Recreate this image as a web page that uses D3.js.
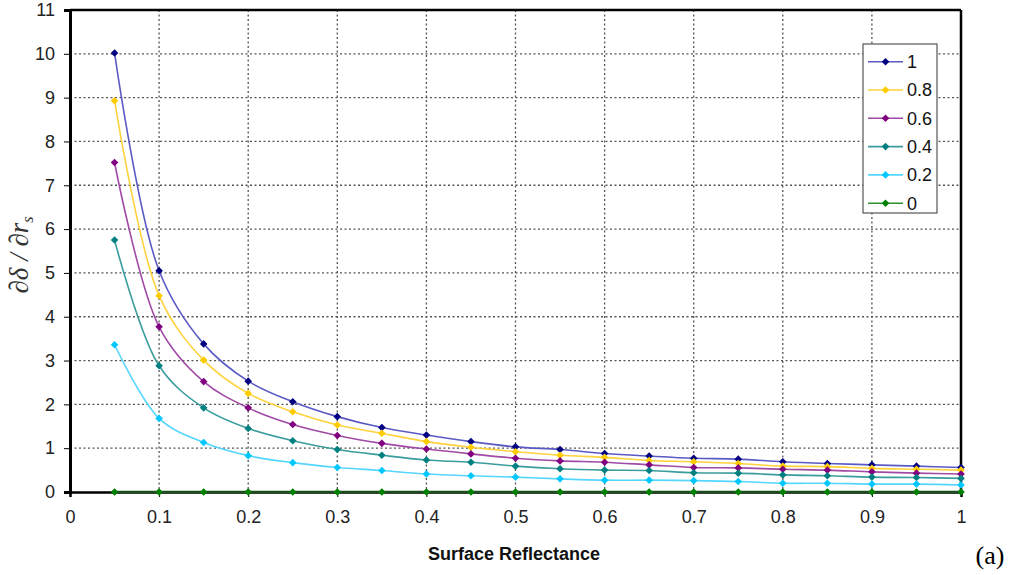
<!DOCTYPE html>
<html>
<head>
<meta charset="utf-8">
<script src="https://cdn.jsdelivr.net/npm/d3@7"></script>
<style>
  html, body { margin: 0; padding: 0; background: #fff; }
  svg { display: block; }
</style>
</head>
<body>
<svg id="chart" width="1013" height="575" font-family="Liberation Sans, Arial, sans-serif"></svg>
<script>
// ---- Data ----
const xValues = [0.05, 0.1, 0.15, 0.2, 0.25, 0.3, 0.35, 0.4, 0.45, 0.5, 0.55, 0.6, 0.65, 0.7, 0.75, 0.8, 0.85, 0.9, 0.95, 1.0];
const seriesNames = ["1", "0.8", "0.6", "0.4", "0.2", "0"];
const series1   = [10.02, 5.05, 3.38, 2.53, 2.06, 1.72, 1.47, 1.30, 1.15, 1.03, 0.97, 0.88, 0.82, 0.77, 0.75, 0.69, 0.65, 0.62, 0.59, 0.56];
const series08  = [8.93, 4.48, 3.01, 2.25, 1.83, 1.53, 1.34, 1.15, 1.02, 0.92, 0.84, 0.79, 0.72, 0.69, 0.65, 0.59, 0.58, 0.54, 0.52, 0.50];
const series06  = [7.52, 3.77, 2.52, 1.92, 1.54, 1.29, 1.11, 0.98, 0.87, 0.77, 0.71, 0.68, 0.62, 0.56, 0.55, 0.52, 0.50, 0.46, 0.43, 0.41];
const series04  = [5.75, 2.88, 1.92, 1.45, 1.17, 0.97, 0.84, 0.73, 0.68, 0.59, 0.53, 0.50, 0.49, 0.44, 0.43, 0.39, 0.37, 0.34, 0.33, 0.31];
const series02  = [3.36, 1.68, 1.13, 0.83, 0.67, 0.56, 0.49, 0.41, 0.37, 0.34, 0.30, 0.27, 0.27, 0.26, 0.24, 0.20, 0.20, 0.18, 0.18, 0.16];
const series0   = [0, 0, 0, 0, 0, 0, 0, 0, 0, 0, 0, 0, 0, 0, 0, 0, 0, 0, 0, 0];
const xTicks = [0, 0.1, 0.2, 0.3, 0.4, 0.5, 0.6, 0.7, 0.8, 0.9, 1];
const yTicks = [0, 1, 2, 3, 4, 5, 6, 7, 8, 9, 10, 11];
const xLabel = "Surface Reflectance";
const panelLabel = "(a)";

const allSeries = [series1, series08, series06, series04, series02, series0];
const lineColors   = ["#5a5ac4", "#ffd23c", "#a04aa6", "#3a9c9c", "#55d6ff", "#2e8f2e"];
const markerColors = ["#000080", "#ffcc00", "#800080", "#008080", "#00c8ff", "#008000"];

// ---- Layout ----
const svg = d3.select("#chart");
const pLeft = 70, pRight = 961, pTop = 10, pBottom = 492;

const x = d3.scaleLinear().domain([0, 1]).range([pLeft, pRight]);
const y = d3.scaleLinear().domain([0, 11]).range([pBottom, pTop]);

// Grid
const grid = svg.append("g");
grid.selectAll("line.vg").data(xTicks.filter(t => t > 0 && t < 1)).enter().append("line")
  .attr("x1", d => x(d)).attr("x2", d => x(d)).attr("y1", pTop).attr("y2", pBottom)
  .attr("stroke", "#555").attr("stroke-width", 1.3).attr("stroke-dasharray", "2,2.5");
grid.selectAll("line.hg").data(yTicks.filter(t => t > 0 && t < 11)).enter().append("line")
  .attr("x1", pLeft).attr("x2", pRight).attr("y1", d => y(d)).attr("y2", d => y(d))
  .attr("stroke", "#555").attr("stroke-width", 1.3).attr("stroke-dasharray", "2,2.5");

// Frame top/right
svg.append("line").attr("x1", pLeft).attr("x2", pRight).attr("y1", pTop).attr("y2", pTop)
  .attr("stroke", "#000").attr("stroke-width", 2.5);
svg.append("line").attr("x1", pRight).attr("x2", pRight).attr("y1", pTop).attr("y2", pBottom)
  .attr("stroke", "#000").attr("stroke-width", 2.5);

// Axes
const xAxis = d3.axisBottom(x).tickValues(xTicks).tickSize(5).tickPadding(13)
  .tickFormat(d => d3.format("")(d));
const gx = svg.append("g").attr("transform", `translate(0,${pBottom})`).call(xAxis);
gx.attr("font-family", null).attr("font-size", null);
gx.select(".domain").attr("stroke", "#000").attr("stroke-width", 2.5);
gx.selectAll(".tick line").attr("stroke", "#000");
gx.selectAll(".tick text").attr("font-size", 18).attr("fill", "#222");

const yAxis = d3.axisLeft(y).tickValues(yTicks).tickSize(6).tickPadding(9);
const gy = svg.append("g").attr("transform", `translate(${pLeft},0)`).call(yAxis);
gy.attr("font-family", null).attr("font-size", null);
gy.select(".domain").attr("stroke", "#000").attr("stroke-width", 3);
gy.selectAll(".tick line").attr("stroke", "#000");
gy.selectAll(".tick text").attr("font-size", 18).attr("fill", "#222");

// Series
const diamond = "M0,-3.8L3.8,0L0,3.8L-3.8,0Z";
const line = d3.line().x(d => x(d[0])).y(d => y(d[1])).curve(d3.curveCatmullRom.alpha(0.5));

allSeries.forEach((vals, i) => {
  const pts = xValues.map((xv, j) => [xv, vals[j]]);
  const g = svg.append("g");
  g.append("path").datum(pts).attr("d", line).attr("fill", "none")
    .attr("stroke", i === 5 ? "#1d4d1d" : lineColors[i]).attr("stroke-width", i === 5 ? 2.5 : 1.6);
  g.selectAll("path.m").data(pts).enter().append("path")
    .attr("d", diamond)
    .attr("transform", d => `translate(${x(d[0])},${y(d[1])})`)
    .attr("fill", markerColors[i]);
});

// Legend
const lg = svg.append("g");
lg.append("rect").attr("x", 863).attr("y", 44).attr("width", 74).attr("height", 169)
  .attr("fill", "#fff").attr("stroke", "#555").attr("stroke-width", 1.2);
seriesNames.forEach((name, i) => {
  const ly = 61.7 + i * 28.3;
  lg.append("line").attr("x1", 868).attr("x2", 903).attr("y1", ly).attr("y2", ly)
    .attr("stroke", lineColors[i]).attr("stroke-width", 1.6);
  lg.append("path").attr("d", diamond).attr("transform", `translate(885.5,${ly})`)
    .attr("fill", markerColors[i]);
  lg.append("text").attr("x", 907).attr("y", ly).attr("dy", "0.36em")
    .attr("font-size", 18).attr("fill", "#111").text(name);
});

// Axis titles
svg.append("text").attr("x", 514).attr("y", 560).attr("text-anchor", "middle")
  .attr("font-size", 18).attr("font-weight", "bold").attr("fill", "#111").text(xLabel);

const yl = svg.append("text").attr("transform", "translate(28,255) rotate(-90)")
  .attr("text-anchor", "middle").attr("font-size", 27).attr("fill", "#333")
  .attr("font-family", "Liberation Serif, Times New Roman, serif").attr("font-style", "italic");
yl.append("tspan").text("\u2202\u03b4 / \u2202r");
yl.append("tspan").attr("font-size", 16).attr("dy", 5).text("s");

svg.append("text").attr("x", 990).attr("y", 564).attr("text-anchor", "middle")
  .attr("font-size", 26).attr("fill", "#000")
  .attr("font-family", "Liberation Serif, Times New Roman, serif").text(panelLabel);
</script>
</body>
</html>
